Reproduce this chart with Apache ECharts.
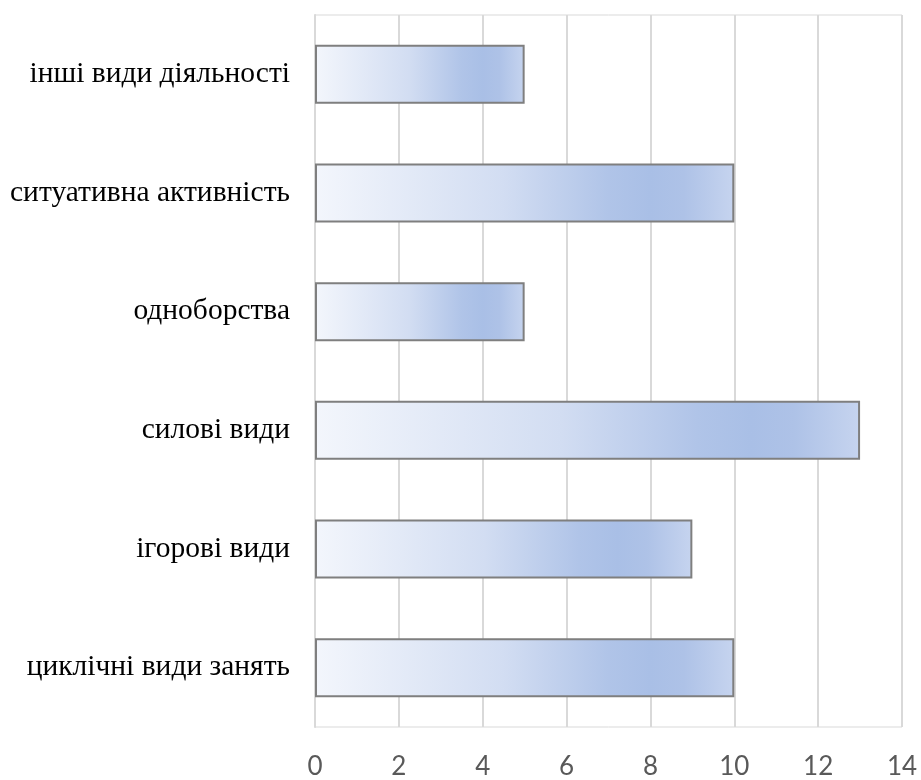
<!DOCTYPE html>
<html>
<head>
<meta charset="utf-8">
<script src="https://cdn.jsdelivr.net/npm/echarts@6/dist/echarts.min.js"></script>
<style>
  html, body { margin: 0; padding: 0; background: #ffffff; }
  #chart { width: 921px; height: 780px; }
</style>
</head>
<body>
<div id="chart"></div>
<script>
// Categories listed bottom to top (category axis on y starts at the bottom)
const categories = [
  'циклічні види занять',
  'ігорові види',
  'силові види',
  'одноборства',
  'ситуативна активність',
  'інші види діяльності'
];
const values = [10, 9, 13, 5, 10, 5];
const axisMin = 0;
const axisMax = 14;
const axisStep = 2;

const barFill = new echarts.graphic.LinearGradient(0, 0, 1, 0, [
  { offset: 0, color: '#f3f6fc' },
  { offset: 0.45, color: '#d2ddf2' },
  { offset: 0.7, color: '#b0c4e8' },
  { offset: 0.8, color: '#a9bfe6' },
  { offset: 0.88, color: '#aec2e7' },
  { offset: 1, color: '#c6d4ef' }
]);

const chart = echarts.init(document.getElementById('chart'), null, { renderer: 'canvas' });
chart.setOption({
  animation: false,
  backgroundColor: '#ffffff',
  grid: { left: 315, right: 19, top: 15, bottom: 52, containLabel: false, show: true, borderColor: '#d9d9d9', borderWidth: 1 },
  xAxis: {
    type: 'value',
    min: axisMin,
    max: axisMax,
    interval: axisStep,
    axisLine: { show: false },
    axisTick: { show: false },
    splitLine: { show: true, lineStyle: { color: '#d9d9d9', width: 2 } },
    axisLabel: { color: '#595959', fontSize: 26, fontFamily: 'Lato, "Open Sans", sans-serif', margin: 27 }
  },
  yAxis: {
    type: 'category',
    data: categories,
    axisLine: { show: true, lineStyle: { color: '#d9d9d9', width: 2 } },
    axisTick: { show: false },
    axisLabel: { color: '#000000', fontSize: 29.5, fontFamily: '"Liberation Serif", "Times New Roman", serif', margin: 25 }
  },
  series: [{
    type: 'bar',
    data: values,
    barWidth: 59,
    itemStyle: { color: barFill, borderColor: '#7f7f7f', borderWidth: 2 }
  }]
});
</script>
</body>
</html>
